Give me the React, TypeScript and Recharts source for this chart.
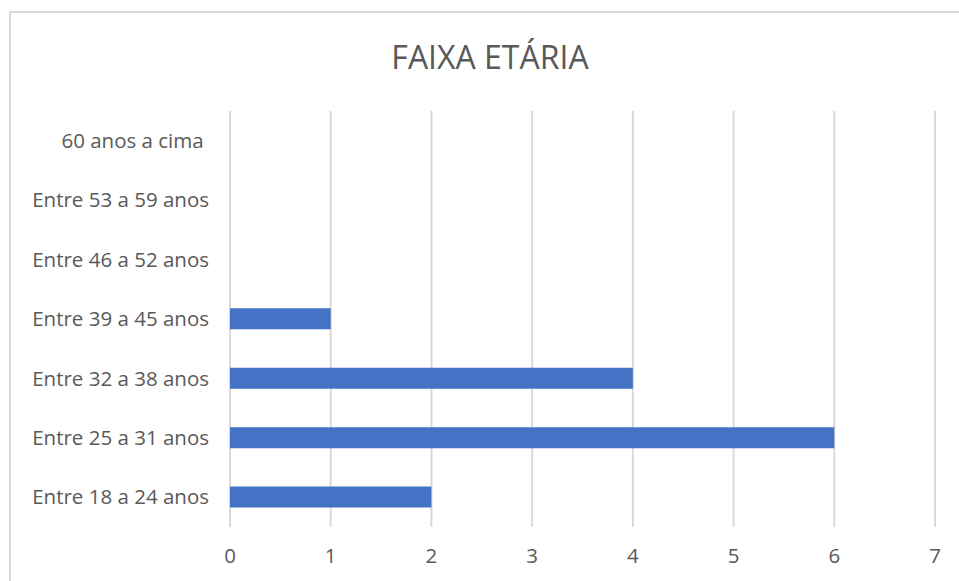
import { BarChart, Bar, XAxis, YAxis, CartesianGrid } from "recharts";

const categories = [
  "Entre 18 a 24 anos",
  "Entre 25 a 31 anos",
  "Entre 32 a 38 anos",
  "Entre 39 a 45 anos",
  "Entre 46 a 52 anos",
  "Entre 53 a 59 anos",
  "60 anos a cima\u00A0",
];
const counts = [2, 6, 4, 1, 0, 0, 0];
const xTicks = [0, 1, 2, 3, 4, 5, 6, 7];

const data = categories.map((name, i) => ({ name, value: counts[i] }));

const FONT = "'Open Sans', sans-serif";
const TEXT = "#595959";

const CategoryTick = (props: any) => {
  const { x, y, payload } = props;
  return (
    <text
      x={x}
      y={y}
      dy="0.35em"
      textAnchor="end"
      fill={TEXT}
      fontSize={20.5}
      fontFamily={FONT}
      style={{ whiteSpace: "pre" }}
    >
      {payload.value}
    </text>
  );
};

export default function App() {
  return (
    <div style={{ position: "absolute", left: 0, top: 0, width: 959, height: 581, background: "#fff", overflow: "hidden" }}>
      <div
        style={{
          position: "absolute",
          left: 9,
          top: 11,
          width: 980,
          height: 600,
          border: "2px solid #d9d9d9",
          boxSizing: "border-box",
        }}
      />
      <div
        style={{
          position: "absolute",
          left: 0,
          top: 35,
          width: 980,
          textAlign: "center",
          fontFamily: FONT,
          fontSize: 32,
          lineHeight: "44px",
          color: TEXT,
        }}
      >
        FAIXA ETÁRIA
      </div>
      <div style={{ position: "absolute", left: 0, top: 0 }}>
        <BarChart
          width={959}
          height={581}
          data={data}
          layout="vertical"
          barSize={21}
          margin={{ top: 111, right: 24, bottom: 24, left: 20 }}
        >
          <CartesianGrid horizontal={false} stroke="#d9d9d9" strokeWidth={2} />
          <XAxis
            type="number"
            domain={[0, 7]}
            ticks={xTicks}
            interval={0}
            axisLine={false}
            tickLine={false}
            tickMargin={15}
            height={30}
            tick={{ fill: TEXT, fontSize: 20.5, fontFamily: FONT }}
          />
          <YAxis
            type="category"
            dataKey="name"
            reversed
            width={210}
            axisLine={false}
            tickLine={false}
            tickMargin={15}
            tick={<CategoryTick />}
          />
          <Bar dataKey="value" fill="#4472c4" isAnimationActive={false} />
        </BarChart>
      </div>
    </div>
  );
}
